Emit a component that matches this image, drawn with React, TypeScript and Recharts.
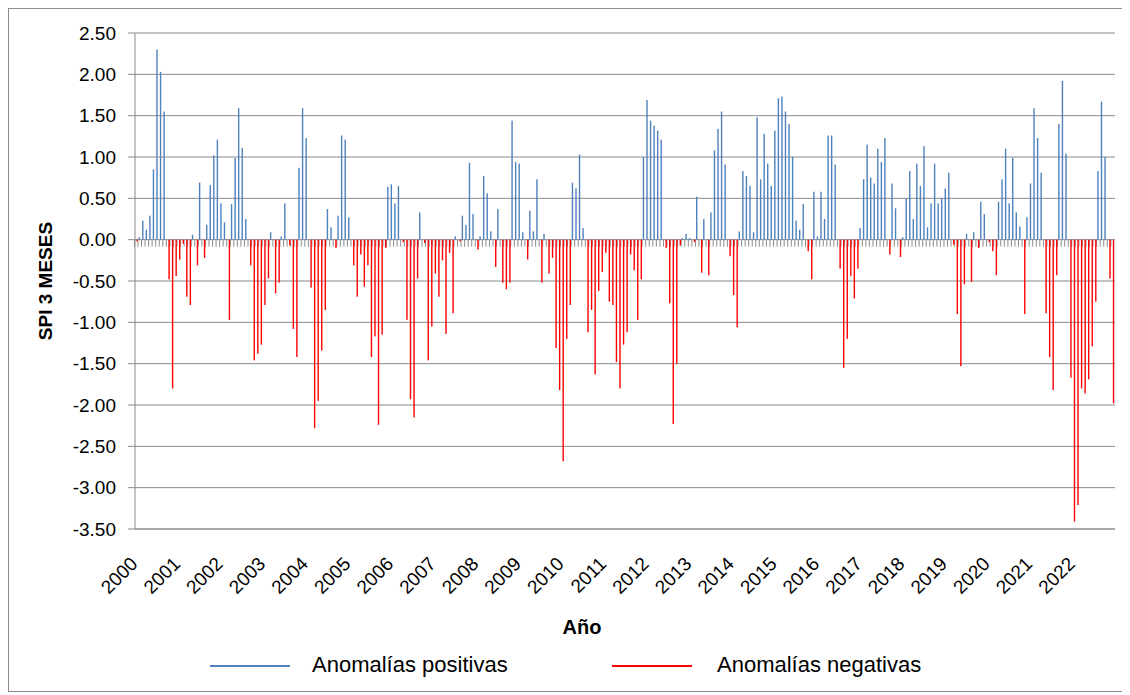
import React from 'react';
import { BarChart, Bar, XAxis, YAxis, CartesianGrid, Label } from 'recharts';

// SPI 3 meses, valores mensuales (ene..dic)
const years = [2000, 2001, 2002, 2003, 2004, 2005, 2006, 2007, 2008, 2009, 2010, 2011, 2012, 2013, 2014, 2015, 2016, 2017, 2018, 2019, 2020, 2021, 2022];

const spi2000 = [-0.02, 0.03, 0.23, 0.12, 0.29, 0.85, 2.30, 2.03, 1.55, -0.48, -1.80, -0.44];
const spi2001 = [-0.24, -0.05, -0.69, -0.79, 0.06, -0.31, 0.69, -0.22, 0.18, 0.66, 1.02, 1.21];
const spi2002 = [0.44, 0.21, -0.97, 0.43, 0.99, 1.59, 1.11, 0.25, -0.31, -1.46, -1.38, -1.27];
const spi2003 = [-0.79, -0.47, 0.09, -0.65, -0.52, 0.04, 0.44, -0.07, -1.08, -1.42, 0.87, 1.59];
const spi2004 = [1.23, -0.58, -2.28, -1.95, -1.34, -0.85, 0.37, 0.15, -0.10, 0.29, 1.26, 1.21];
const spi2005 = [0.27, -0.31, -0.69, -0.18, -0.57, -0.31, -1.42, -1.17, -2.24, -1.15, -0.10, 0.64];
const spi2006 = [0.67, 0.44, 0.65, -0.03, -0.97, -1.93, -2.15, -0.47, 0.33, -0.04, -1.46, -1.05];
const spi2007 = [-0.41, -0.69, -0.25, -1.14, -0.16, -0.89, 0.04, -0.02, 0.29, 0.18, 0.93, 0.31];
const spi2008 = [-0.12, 0.04, 0.77, 0.56, 0.10, -0.33, 0.37, -0.52, -0.60, -0.52, 1.44, 0.94];
const spi2009 = [0.92, 0.09, -0.24, 0.35, 0.10, 0.73, -0.52, 0.07, -0.41, -0.22, -1.31, -1.82];
const spi2010 = [-2.68, -1.20, -0.79, 0.69, 0.62, 1.03, 0.14, -1.12, -0.85, -1.63, -0.62, -0.39];
const spi2011 = [-0.16, -0.75, -0.79, -1.48, -1.80, -1.27, -1.12, -0.18, -0.37, -0.97, -0.48, 1.00];
const spi2012 = [1.69, 1.44, 1.38, 1.32, 1.21, -0.10, -0.77, -2.23, -1.50, -0.07, 0.02, 0.07];
const spi2013 = [0.02, -0.03, 0.52, -0.40, 0.25, -0.43, 0.33, 1.08, 1.34, 1.55, 0.91, -0.20];
const spi2014 = [-0.67, -1.06, 0.10, 0.83, 0.77, 0.65, 0.09, 1.48, 0.73, 1.28, 0.92, 0.65];
const spi2015 = [1.32, 1.71, 1.73, 1.55, 1.40, 1.00, 0.23, 0.12, 0.43, -0.14, -0.48, 0.58];
const spi2016 = [0.04, 0.58, 0.25, 1.26, 1.26, 0.91, -0.35, -1.55, -1.20, -0.44, -0.71, -0.35];
const spi2017 = [0.14, 0.73, 1.15, 0.75, 0.68, 1.10, 0.94, 1.23, -0.18, 0.68, 0.38, -0.21];
const spi2018 = [0.03, 0.50, 0.83, 0.25, 0.92, 0.65, 1.13, 0.15, 0.44, 0.92, 0.44, 0.50];
const spi2019 = [0.62, 0.81, -0.06, -0.90, -1.53, -0.54, 0.07, -0.51, 0.09, -0.10, 0.46, 0.31];
const spi2020 = [-0.03, -0.14, -0.43, 0.46, 0.73, 1.10, 0.44, 0.99, 0.33, 0.16, -0.90, 0.27];
const spi2021 = [0.68, 1.59, 1.23, 0.81, -0.89, -1.42, -1.82, -0.43, 1.40, 1.92, 1.04, -1.67];
const spi2022 = [-3.41, -3.21, -1.80, -1.86, -1.69, -1.29, -0.75, 0.83, 1.67, 1.00, -0.47, -1.98];

const spiByYear = [spi2000, spi2001, spi2002, spi2003, spi2004, spi2005, spi2006, spi2007, spi2008, spi2009, spi2010, spi2011, spi2012, spi2013, spi2014, spi2015, spi2016, spi2017, spi2018, spi2019, spi2020, spi2021, spi2022];

const yTicks = [2.5, 2, 1.5, 1, 0.5, 0, -0.5, -1, -1.5, -2, -2.5, -3, -3.5];

const data = years.flatMap((yr, yi) =>
  spiByYear[yi].map((v, m) => ({
    key: `${yr}-${m + 1}`,
    pos: v > 0 ? v : 0,
    neg: v < 0 ? v : 0,
  }))
);
const yearTicks = years.map((y) => `${y}-1`);

const BLUE = '#4F81BD';
const RED = '#FF0000';
const GRID = '#8a8a8a';
const FONT = '"Liberation Sans", Arial, sans-serif';

const PosShape = (props: any) => {
  const { x, y, width, height } = props;
  const top = Math.min(y, y + height);
  const h = Math.abs(height);
  const zeroY = Math.max(y, y + height);
  return (
    <g>
      <line x1={x - 0.6} x2={x - 0.6} y1={zeroY} y2={zeroY + 7} stroke="#8c8c8c" strokeWidth={1} />
      {h > 0 && <rect x={x} y={top} width={width} height={h} fill={BLUE} />}
    </g>
  );
};

const NegShape = (props: any) => {
  const { x, y, width, height } = props;
  const top = Math.min(y, y + height);
  const h = Math.abs(height);
  if (!(h > 0)) return <g />;
  return <rect x={x} y={top} width={width} height={h} fill={RED} />;
};

const YearTick = (props: any) => {
  const { x, y, payload } = props;
  const label = String(payload.value).split('-')[0];
  const ax = x + 2;
  const ay = y + 28;
  return (
    <text
      x={ax}
      y={ay}
      transform={`rotate(-45, ${ax}, ${ay})`}
      textAnchor="end"
      fontSize={19}
      fontFamily={FONT}
      fill="#000"
    >
      {label}
    </text>
  );
};

export default function App() {
  return (
    <div style={{ position: 'relative', width: 1117, height: 684 }}>
      <BarChart
        width={1117}
        height={684}
        data={data}
        margin={{ top: 25, right: 10, left: 0, bottom: 0 }}
        barGap={0}
        barSize={1.4}
      >
        <CartesianGrid vertical={false} stroke={GRID} strokeWidth={1} />
        <XAxis
          dataKey="key"
          ticks={yearTicks}
          interval={0}
          tickLine={false}
          axisLine={{ stroke: GRID }}
          tick={<YearTick />}
          height={163}
        >
          <Label
            content={(p: any) => (
              <text
                x={574}
                y={626}
                textAnchor="middle"
                fontSize={20}
                fontWeight="bold"
                fontFamily={FONT}
                fill="#000"
              >
                Año
              </text>
            )}
          />
        </XAxis>
        <YAxis
          width={127}
          domain={[-3.5, 2.5]}
          ticks={yTicks}
          interval={0}
          allowDataOverflow
          tickFormatter={(v: number) => v.toFixed(2)}
          tick={{ fontSize: 19, fill: '#000', fontFamily: FONT }}
          tickSize={7}
          tickMargin={12}
          axisLine={{ stroke: GRID }}
          tickLine={{ stroke: GRID }}
        >
          <Label
            content={(p: any) => (
              <text
                x={37}
                y={273}
                transform="rotate(-90, 37, 273)"
                textAnchor="middle"
                dominantBaseline="central"
                fontSize={19}
                fontWeight="bold"
                fontFamily={FONT}
                fill="#000"
              >
                SPI 3 MESES
              </text>
            )}
          />
        </YAxis>
        <Bar dataKey="pos" name="Anomalías positivas" fill={BLUE} shape={<PosShape />} isAnimationActive={false} />
        <Bar dataKey="neg" name="Anomalías negativas" fill={RED} shape={<NegShape />} isAnimationActive={false} />
      </BarChart>
      <div style={{ position: 'absolute', left: 0, top: 0, width: 1117, height: 684, boxSizing: 'border-box', border: '1px solid #8c8c8c', pointerEvents: 'none' }} />
      <div style={{ position: 'absolute', left: 202, top: 657, width: 80, height: 0, borderTop: `2px solid ${BLUE}` }} />
      <div style={{ position: 'absolute', left: 304, top: 644, fontSize: 22, fontFamily: FONT, color: '#000', lineHeight: '26px', whiteSpace: 'nowrap' }}>Anomalías positivas</div>
      <div style={{ position: 'absolute', left: 604, top: 657, width: 80, height: 0, borderTop: `2px solid ${RED}` }} />
      <div style={{ position: 'absolute', left: 709, top: 644, fontSize: 22, fontFamily: FONT, color: '#000', lineHeight: '26px', whiteSpace: 'nowrap' }}>Anomalías negativas</div>
    </div>
  );
}
